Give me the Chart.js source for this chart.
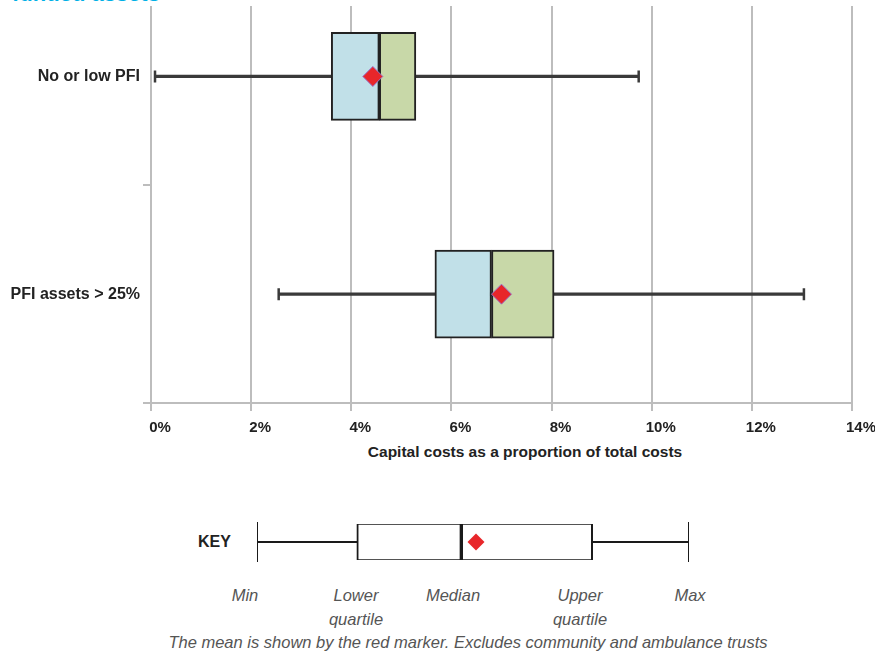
<!DOCTYPE html>
<html>
<head>
<meta charset="utf-8">
<script src="https://cdn.jsdelivr.net/npm/chart.js@4.4.1/dist/chart.umd.min.js"></script>
<style>
  html, body { margin: 0; padding: 0; background: #fff; }
  body { width: 875px; height: 653px; position: relative; overflow: hidden; font-family: "Liberation Sans", Arial, sans-serif; }
  #head { position: absolute; left: 0; top: 0; width: 875px; height: 6px; background: #fff; overflow: hidden; z-index: 2; }
  #head span { position: absolute; left: 12px; top: -19px; font-size: 22px; font-weight: bold; color: #00b0e6; white-space: nowrap; }
  #main { position: absolute; left: 0; top: -45px; width: 875px; height: 488px; }
  #xtitle { position: absolute; left: 525px; top: 443px; transform: translateX(-50%); font-size: 15.5px; font-weight: bold; color: #222; white-space: nowrap; }
  #keywrap { position: absolute; left: 0; top: 502px; width: 875px; height: 80px; }
  #keytxt { position: absolute; left: 198px; top: 533px; font-size: 16px; font-weight: bold; color: #222; }
  .kl { position: absolute; top: 583px; transform: translateX(-50%); font-size: 16.5px; font-style: italic; color: #555; line-height: 24px; text-align: center; white-space: nowrap; }
  #note { position: absolute; left: 468px; top: 633px; transform: translateX(-50%); font-size: 16.5px; font-style: italic; color: #555; white-space: nowrap; }
</style>
</head>
<body>
<div id="head"><span>funded assets</span></div>
<div id="main"><canvas id="boxChart"></canvas></div>
<div id="xtitle">Capital costs as a proportion of total costs</div>
<div id="keytxt">KEY</div>
<div id="keywrap"><canvas id="keyChart"></canvas></div>
<div class="kl" style="left:245px">Min</div>
<div class="kl" style="left:356px">Lower<br>quartile</div>
<div class="kl" style="left:453px">Median</div>
<div class="kl" style="left:580px">Upper<br>quartile</div>
<div class="kl" style="left:690px">Max</div>
<div id="note">The mean is shown by the red marker. Excludes community and ambulance trusts</div>
<script>
// box plot data, % of total costs
const groups = ["No or low PFI", "PFI assets > 25%"];
const mins = [0.08, 2.55];
const lowerQ = [3.6, 5.67];
const medians = [4.56, 6.8];
const upperQ = [5.29, 8.05];
const maxs = [9.74, 13.04];
const means = [4.43, 7.0];
const xTicks = [0, 2, 4, 6, 8, 10, 12, 14];

// key (illustration only)
const keyLabel = ["KEY"];
const keyMin = 0, keyQ1 = 2.31, keyMedian = 4.73, keyQ3 = 7.77, keyMax = 10, keyMean = 5.07;

const font = "'Liberation Sans', Arial, sans-serif";
const gridGrey = "#bdbdbd";

new Chart(document.getElementById("boxChart"), {
  type: "bar",
  data: {
    labels: groups,
    datasets: [
      {
        type: "scatter",
        label: "Mean",
        data: groups.map((g, i) => ({ x: means[i], y: g })),
        pointStyle: "rectRot",
        pointRadius: 10,
        backgroundColor: "#e8262a",
        borderColor: "#9a70c8",
        borderWidth: 1,
      },
      {
        label: "Lower quartile to median",
        data: groups.map((g, i) => [lowerQ[i], medians[i]]),
        backgroundColor: "#c1e0e8",
        borderColor: "#222",
        borderWidth: 2,
        borderSkipped: false,
        barThickness: 88,
        grouped: false,
      },
      {
        label: "Median to upper quartile",
        data: groups.map((g, i) => [medians[i], upperQ[i]]),
        backgroundColor: "#c8d8a8",
        borderColor: "#222",
        borderWidth: 2,
        borderSkipped: false,
        barThickness: 88,
        grouped: false,
      },
      {
        label: "Whisker",
        data: groups.map((g, i) => [mins[i], maxs[i]]),
        backgroundColor: "#3a3a3a",
        borderWidth: 0,
        barThickness: 2.5,
        grouped: false,
      },
      {
        type: "scatter",
        label: "Caps",
        data: groups.flatMap((g, i) => [{ x: mins[i], y: g }, { x: maxs[i], y: g }]),
        pointStyle: "line",
        rotation: 90,
        pointRadius: 6,
        borderColor: "#3a3a3a",
        borderWidth: 2.5,
      },
    ],
  },
  options: {
    indexAxis: "y",
    responsive: true,
    maintainAspectRatio: false,
    animation: false,
    layout: { padding: { left: 0, right: 22, top: 0, bottom: 0 } },
    plugins: { legend: { display: false }, tooltip: { enabled: false } },
    scales: {
      x: {
        type: "linear",
        min: 0,
        max: 14,
        afterBuildTicks: (s) => { s.ticks = xTicks.map((v) => ({ value: v })); },
        afterFit: (s) => { s.height = 40; },
        grid: { color: gridGrey, lineWidth: 2, tickLength: 8, tickColor: gridGrey },
        border: { color: gridGrey, width: 2 },
        ticks: {
          callback: (v) => v + "%",
          labelOffset: 9,
          padding: 8,
          maxRotation: 0,
          color: "#222",
          font: { family: font, size: 15, weight: "bold" },
        },
      },
      y: {
        type: "category",
        labels: groups,
        offset: true,
        afterFit: (s) => { s.width = 151; },
        grid: { offset: true, drawOnChartArea: false, tickLength: 8, color: gridGrey, lineWidth: 2 },
        border: { color: gridGrey, width: 2 },
        ticks: {
          padding: 3,
          color: "#222",
          font: { family: font, size: 16, weight: "bold" },
        },
      },
    },
  },
});

new Chart(document.getElementById("keyChart"), {
  type: "bar",
  data: {
    labels: keyLabel,
    datasets: [
      {
        type: "scatter",
        data: [{ x: keyMean, y: "KEY" }],
        pointStyle: "rectRot",
        pointRadius: 8.5,
        backgroundColor: "#e8262a",
        borderWidth: 0,
      },
      {
        data: [[keyQ1, keyMedian]],
        backgroundColor: "#fff",
        borderColor: "#1a1a1a",
        borderWidth: 2,
        borderSkipped: false,
        barThickness: 38,
        grouped: false,
      },
      {
        data: [[keyMedian, keyQ3]],
        backgroundColor: "#fff",
        borderColor: "#1a1a1a",
        borderWidth: 2,
        borderSkipped: false,
        barThickness: 38,
        grouped: false,
      },
      {
        data: [[keyMin, keyMax]],
        backgroundColor: "#1a1a1a",
        borderWidth: 0,
        barThickness: 1.5,
        grouped: false,
      },
      {
        type: "scatter",
        data: [{ x: keyMin, y: "KEY" }, { x: keyMax, y: "KEY" }],
        pointStyle: "line",
        rotation: 90,
        pointRadius: 20,
        borderColor: "#1a1a1a",
        borderWidth: 2,
      },
    ],
  },
  options: {
    indexAxis: "y",
    responsive: true,
    maintainAspectRatio: false,
    animation: false,
    layout: { padding: { left: 257, right: 186, top: 0, bottom: 0 } },
    plugins: { legend: { display: false }, tooltip: { enabled: false } },
    scales: {
      x: { type: "linear", min: 0, max: 10, display: false },
      y: { type: "category", labels: keyLabel, display: false },
    },
  },
});
</script>
</body>
</html>
